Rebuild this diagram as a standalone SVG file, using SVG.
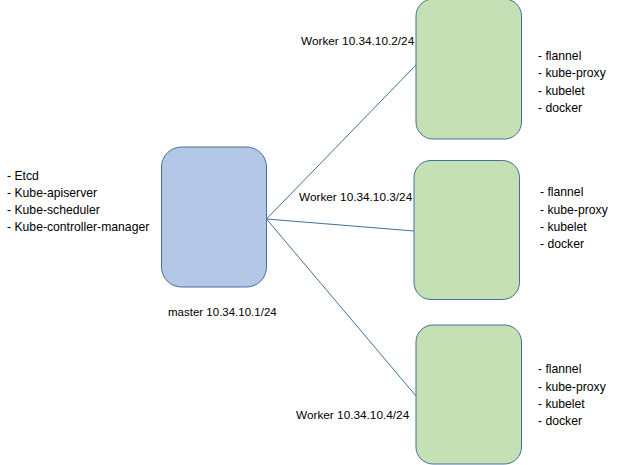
<svg xmlns="http://www.w3.org/2000/svg" width="640" height="465" viewBox="0 0 640 465">
<style>
.bg{fill:#ffffff}
.master{fill:#B4C7E7;stroke:#41719C;stroke-width:1}
.worker{fill:#C5E0B4;stroke:#41719C;stroke-width:1}
.conn{stroke:#41719C;stroke-width:1;fill:none}
.lbl{font-family:"Liberation Sans",Arial,sans-serif;font-size:11.8px;fill:#000}
.mlbl{font-family:"Liberation Sans",Arial,sans-serif;font-size:11.5px;fill:#000}
.lst{font-family:"Liberation Sans",Arial,sans-serif;font-size:12.2px;fill:#000}
</style>
<rect class="bg" x="0" y="0" width="640" height="465"/>
<g id="connectors">
<line class="conn" x1="266.5" y1="219" x2="416" y2="65"/>
<line class="conn" x1="266.5" y1="219" x2="414" y2="231"/>
<line class="conn" x1="266.5" y1="219" x2="416" y2="396"/>
</g>
<g id="master">
<rect class="master" x="161.5" y="147" width="105" height="140" rx="20" ry="20"/>
<text class="mlbl" x="168" y="316">master 10.34.10.1/24</text>
<text class="lst" x="7" y="179.5">- Etcd</text>
<text class="lst" x="7" y="197">- Kube-apiserver</text>
<text class="lst" x="7" y="214">- Kube-scheduler</text>
<text class="lst" x="7" y="231">- Kube-controller-manager</text>
</g>
<g id="worker1">
<rect class="worker" x="416" y="-1" width="105.5" height="140" rx="17" ry="17"/>
<text class="lbl" x="301" y="44.5">Worker 10.34.10.2/24</text>
<text class="lst" x="538" y="59.5">- flannel</text>
<text class="lst" x="538" y="77">- kube-proxy</text>
<text class="lst" x="538" y="94.5">- kubelet</text>
<text class="lst" x="538" y="111.5">- docker</text>
</g>
<g id="worker2">
<rect class="worker" x="414" y="160.5" width="105.5" height="139" rx="17" ry="17"/>
<text class="lbl" x="299" y="201">Worker 10.34.10.3/24</text>
<text class="lst" x="540" y="196">- flannel</text>
<text class="lst" x="540" y="213.5">- kube-proxy</text>
<text class="lst" x="540" y="230.5">- kubelet</text>
<text class="lst" x="540" y="247.5">- docker</text>
</g>
<g id="worker3">
<rect class="worker" x="416" y="325" width="105.5" height="139" rx="17" ry="17"/>
<text class="lbl" x="296" y="419">Worker 10.34.10.4/24</text>
<text class="lst" x="538" y="373">- flannel</text>
<text class="lst" x="538" y="390.5">- kube-proxy</text>
<text class="lst" x="538" y="407.5">- kubelet</text>
<text class="lst" x="538" y="424.5">- docker</text>
</g>
</svg>
